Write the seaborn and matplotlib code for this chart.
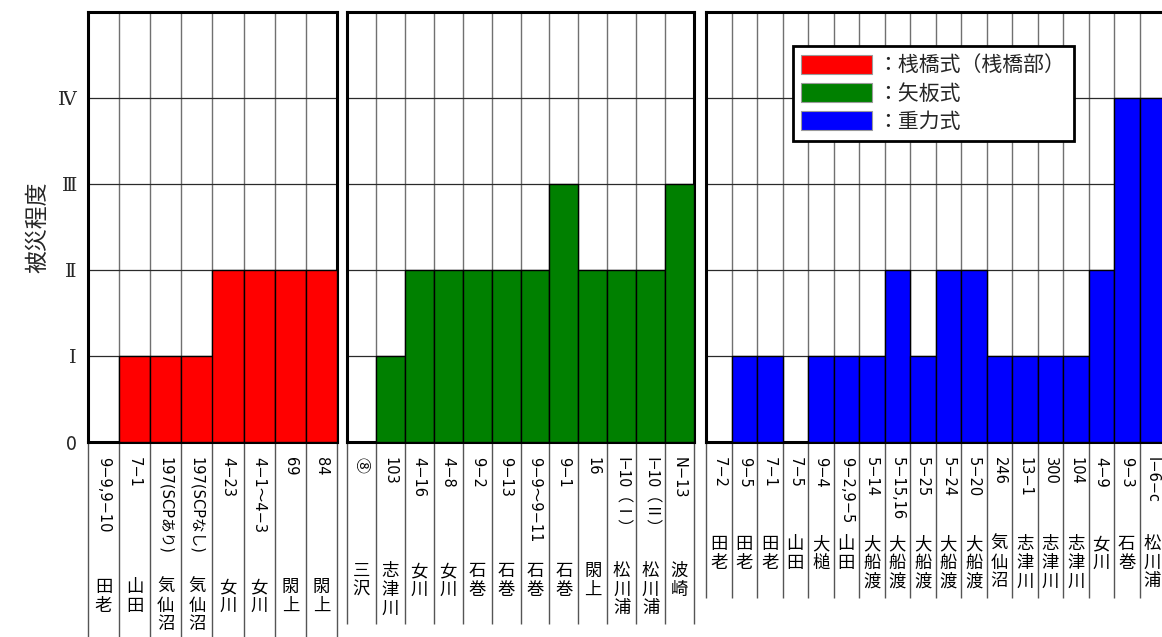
import matplotlib
matplotlib.use("Agg")
import matplotlib.pyplot as plt
from matplotlib.patches import Patch
import numpy as np
import pandas as pd
import seaborn as sns

# ---- data -------------------------------------------------------------
pier_ids = ["9−9,9−10", "7−1", "197(SCPあり)", "197(SCPなし)",
            "4−23", "4−1～4−3", "69", "84"]
pier_ports = ["田老", "山田", "気仙沼", "気仙沼", "女川", "女川", "閖上", "閖上"]
pier_levels = [0, 1, 1, 1, 2, 2, 2, 2]

sheet_ids = ["⑧", "103", "4−16", "4−8", "9−2", "9−13", "9−9～9−11",
             "9−1", "16", "I−10（Ⅰ）", "I−10（Ⅱ）", "N−13"]
sheet_ports = ["三沢", "志津川", "女川", "女川", "石巻", "石巻", "石巻",
               "石巻", "閖上", "松川浦", "松川浦", "波崎"]
sheet_levels = [0, 1, 2, 2, 2, 2, 2, 3, 2, 2, 2, 3]

gravity_ids = ["7−2", "9−5", "7−1", "7−5", "9−4", "9−2,9−5", "5−14",
               "5−15,16", "5−25", "5−24", "5−20", "246", "13−1", "300",
               "104", "4−9", "9−3", "I−6−c"]
gravity_ports = ["田老", "田老", "田老", "山田", "大槌", "山田", "大船渡",
                 "大船渡", "大船渡", "大船渡", "大船渡", "気仙沼", "志津川",
                 "志津川", "志津川", "女川", "石巻", "松川浦"]
gravity_levels = [0, 1, 1, 0, 1, 1, 1, 2, 1, 2, 2, 1, 1, 1, 1, 2, 4, 4]

level_ticks = [0, 1, 2, 3, 4]
level_labels = ["0", "Ⅰ", "Ⅱ", "Ⅲ", "Ⅳ"]
legend_labels = ["：桟橋式（桟橋部）", "：矢板式", "：重力式"]
y_title = "被災程度"

# ---- style ------------------------------------------------------------
sns.set_theme(style="white")
plt.rcParams["font.family"] = ["Noto Sans CJK JP", "DejaVu Sans"]
ID_FONT = ["DejaVu Sans", "Noto Sans CJK JP"]
CJK_FIRST = ["Noto Sans CJK JP", "DejaVu Sans"]
WIDE_SIGNS = set("⑧ⅠⅡ")

RED, GREEN, BLUE = "#ff0000", "#008000", "#0000ff"

W, H = 1162, 637
fig = plt.figure(figsize=(W / 100, H / 100), dpi=100)
TOP, BOTTOM = 12, 442


def add_axes_px(left, right):
    return fig.add_axes([left / W, 1 - BOTTOM / H,
                         (right - left) / W, (BOTTOM - TOP) / H])


panels = [
    # left px, right px, port-name top px, separator bottom px, data, color
    (88, 337, 578, 637, pier_ids, pier_ports, pier_levels, RED),
    (347, 694, 562, 624, sheet_ids, sheet_ports, sheet_levels, GREEN),
    (706, 1165, 535, 598, gravity_ids, gravity_ports, gravity_levels, BLUE),
]

axes = []
for k, (l, r, name_top, sep_bottom, ids, ports, levels, color) in enumerate(panels):
    ax = add_axes_px(l, r)
    axes.append(ax)
    n = len(ids)
    df = pd.DataFrame({"id": ids, "level": levels})
    sns.barplot(data=df, x="id", y="level", order=ids, color=color,
                saturation=1, width=1.0, edgecolor="black", linewidth=1.0,
                ax=ax, zorder=3)
    ax.set_xlim(-0.5, n - 0.5)
    ax.set_ylim(0, 5)
    ax.set_axisbelow(True)

    # grid: one horizontal line per damage level, one vertical per column
    ax.set_yticks(level_ticks)
    ax.set_xticks([])
    ax.set_xticks(np.arange(n - 1) + 0.5, minor=True)
    ax.grid(axis="y", which="major", color="#2a2a2a", lw=0.9)
    ax.grid(axis="x", which="minor", color="#707070", lw=1.0)
    ax.tick_params(axis="both", which="both", length=0)
    ax.set_xlabel("")
    ax.set_ylabel("")

    for sp in ax.spines.values():
        sp.set_visible(True)
        sp.set_color("black")
        sp.set_linewidth(2.2)

    if k == 0:
        ax.set_yticklabels(level_labels, fontsize=14)
        for t in ax.get_yticklabels():
            if t.get_text() != "0":
                t.set_family(["DejaVu Serif", "Noto Sans CJK JP"])
        ax.tick_params(axis="y", pad=8)
        ax.set_ylabel(y_title, fontsize=16.5)
        ax.yaxis.set_label_coords((49 - l) / (r - l), 0.5)
    else:
        ax.set_yticklabels([])

    # column separators continue down through the label table
    trans = ax.get_xaxis_transform()
    ext = -(sep_bottom - BOTTOM) / (BOTTOM - TOP)
    ax.vlines(np.arange(n + 1) - 0.5, ext, 0, transform=trans,
              colors="#555555", lw=1.0, clip_on=False)

    num_y = -(457 - BOTTOM) / (BOTTOM - TOP)
    name_y = -(name_top - BOTTOM) / (BOTTOM - TOP)
    for i, (cid, port) in enumerate(zip(ids, ports)):
        wide = bool(WIDE_SIGNS & set(cid))
        ax.text(i, num_y, cid, transform=trans, rotation=-90,
                ha="center", va="top",
                fontsize=11.5 if wide else 10.5,
                family=CJK_FIRST if wide else ID_FONT,
                color="black")
        ax.text(i, name_y, "\n".join(port), transform=trans,
                ha="center", va="top", fontsize=12.5, linespacing=1.05,
                color="black")

handles = [Patch(facecolor=c, edgecolor="#9a9a9a", lw=0.8, label=t)
           for c, t in zip([RED, GREEN, BLUE], legend_labels)]
ax3 = axes[2]
leg = ax3.legend(handles=handles, loc="upper left",
                 bbox_to_anchor=((793 - 706) / 459, (BOTTOM - 46) / (BOTTOM - TOP)),
                 borderaxespad=0, fontsize=15, handlelength=3.4,
                 handleheight=1.05, handletextpad=0.25, labelspacing=0.3,
                 borderpad=0.4, frameon=True, fancybox=False,
                 framealpha=1, edgecolor="black")
leg.get_frame().set_linewidth(2.0)
leg.set_zorder(10)

fig.savefig("out.png", dpi=100)
